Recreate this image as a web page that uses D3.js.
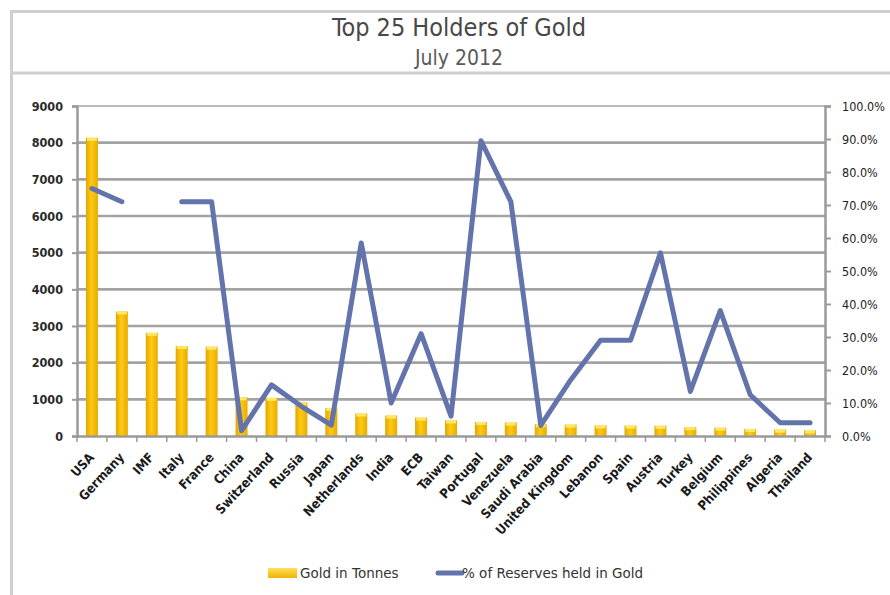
<!DOCTYPE html>
<html><head><meta charset="utf-8">
<script src="https://cdn.jsdelivr.net/npm/d3@7"></script>
<style>
html,body{margin:0;padding:0;background:#fff;}
svg{display:block;}
</style></head>
<body>
<svg id="chart" width="890" height="595"></svg>
<script>
const countries = ["USA","Germany","IMF","Italy","France","China","Switzerland","Russia","Japan","Netherlands","India","ECB","Taiwan","Portugal","Venezuela","Saudi Arabia","United Kingdom","Lebanon","Spain","Austria","Turkey","Belgium","Philippines","Algeria","Thailand"];
const tonnes = [8134,3396,2814,2452,2435,1054,1040,918,765,613,558,502,424,383,366,323,310,287,282,280,240,227,192,174,152];
const pctReserves = [75,71,null,71,71,1.6,15.5,9,3.3,58.5,10,31,6,89.5,71,3.2,17,29,29,55.5,13.5,38,12.5,4,4];
const leftTicks = [0,1000,2000,3000,4000,5000,6000,7000,8000,9000];
const rightTicks = [0,10,20,30,40,50,60,70,80,90,100];
const titleText = "Top 25 Holders of Gold";
const subtitleText = "July 2012";
const legendLabels = ["Gold in Tonnes","% of Reserves held in Gold"];

const svg = d3.select("#chart");
const narrow = "'Liberation Sans Narrow','DejaVu Sans Condensed','Arial Narrow',sans-serif";
const frame = "#cfcfcf";

// frame
svg.append("path").attr("d","M11.5,595 L11.5,11.5 L890,11.5").attr("fill","none").attr("stroke",frame).attr("stroke-width",3);
svg.append("line").attr("x1",11).attr("x2",890).attr("y1",73).attr("y2",73).attr("stroke",frame).attr("stroke-width",3);

svg.append("text").attr("x",459).attr("y",36).attr("text-anchor","middle")
  .style("font-family",narrow).style("font-size","25px").attr("fill","#484848").text(titleText);
svg.append("text").attr("x",459).attr("y",65).attr("text-anchor","middle")
  .style("font-family",narrow).style("font-size","21px").attr("fill","#5a5a5a").text(subtitleText);

const m = {left:77, right:825, top:106, bottom:436};
const x = d3.scaleBand().domain(countries).range([m.left,m.right]).paddingInner(0).paddingOuter(0);
const yL = d3.scaleLinear().domain([0,9000]).range([m.bottom,m.top]);
const yR = d3.scaleLinear().domain([0,100]).range([m.bottom,m.top]);

const defs = svg.append("defs");
const g1 = defs.append("linearGradient").attr("id","goldH").attr("x1","0").attr("x2","1").attr("y1","0").attr("y2","0");
g1.append("stop").attr("offset","0%").attr("stop-color","#e3a600");
g1.append("stop").attr("offset","45%").attr("stop-color","#ffca14");
g1.append("stop").attr("offset","100%").attr("stop-color","#e8ac00");
const g2 = defs.append("linearGradient").attr("id","goldV").attr("x1","0").attr("x2","0").attr("y1","0").attr("y2","1");
g2.append("stop").attr("offset","0%").attr("stop-color","#ffe060");
g2.append("stop").attr("offset","100%").attr("stop-color","#f0b400");

// gridlines
svg.append("g").selectAll("line").data(leftTicks.filter(d=>d>0)).join("line")
  .attr("x1",m.left).attr("x2",m.right).attr("y1",d=>yL(d)).attr("y2",d=>yL(d))
  .attr("stroke","#a3a3a3").attr("stroke-width",d=>d===9000?1.5:2.7);

// bars
const bw = 12;
const bars = svg.append("g");
bars.selectAll("rect.b").data(countries).join("rect").attr("class","b")
  .attr("x",d=>x(d)+x.bandwidth()/2-bw/2).attr("width",bw)
  .attr("y",(d,i)=>yL(tonnes[i])).attr("height",(d,i)=>m.bottom-yL(tonnes[i]))
  .attr("fill","url(#goldH)");
bars.selectAll("rect.t").data(countries).join("rect").attr("class","t")
  .attr("x",d=>x(d)+x.bandwidth()/2-bw/2+1).attr("width",bw-2)
  .attr("y",(d,i)=>yL(tonnes[i])).attr("height",(d,i)=>Math.min(3,m.bottom-yL(tonnes[i])))
  .attr("fill","#ffe866");

// axes
const axL = svg.append("g").attr("transform",`translate(${m.left},0)`)
  .call(d3.axisLeft(yL).tickValues(leftTicks).tickSize(5).tickPadding(9).tickFormat(d3.format("d")));
const axR = svg.append("g").attr("transform",`translate(${m.right},0)`)
  .call(d3.axisRight(yR).tickValues(rightTicks).tickSize(6).tickPadding(11).tickFormat(d=>d3.format(".1%")(d/100)));
const axB = svg.append("g").attr("transform",`translate(0,${m.bottom})`)
  .call(d3.axisBottom(x).tickSize(0).tickFormat(""));
// band boundary ticks
svg.append("g").selectAll("line").data(countries.concat(["__end"])).join("line")
  .attr("x1",(d,i)=>m.left+i*x.step()).attr("x2",(d,i)=>m.left+i*x.step())
  .attr("y1",m.bottom).attr("y2",m.bottom+6).attr("stroke","#999").attr("stroke-width",1.5);

[axL,axR,axB].forEach(a=>{
  a.select(".domain").attr("stroke","#9a9a9a").attr("stroke-width",2.5);
  a.selectAll(".tick line").attr("stroke","#9a9a9a").attr("stroke-width",2);
  a.selectAll("text").style("font-family",narrow).style("font-size","12px").style("font-weight","bold").attr("fill","#2a2a2a");
});
axR.selectAll("text").style("font-weight","normal").style("font-size","12.5px").attr("fill","#222");
axL.selectAll("text").style("font-size","12.5px");

// x labels
svg.append("g").selectAll("text").data(countries).join("text")
  .attr("transform",d=>`translate(${x(d)+x.bandwidth()/2+3},${m.bottom+22}) rotate(-47)`)
  .attr("text-anchor","end")
  .style("font-family",narrow).style("font-size","13px").style("font-weight","bold").attr("fill","#1a1a1a")
  .text(d=>d);

// line
const line = d3.line().defined(d=>d.v!=null).x(d=>x(d.c)+x.bandwidth()/2).y(d=>yR(d.v));
svg.append("path").datum(countries.map((c,i)=>({c,v:pctReserves[i]})))
  .attr("d",line).attr("fill","none").attr("stroke","#6373ab").attr("stroke-width",5)
  .attr("stroke-linejoin","round").attr("stroke-linecap","round");

// legend
const lf = "'DejaVu Sans',Verdana,sans-serif";
const lg = svg.append("g");
lg.append("rect").attr("x",268).attr("y",568).attr("width",29).attr("height",10).attr("fill","url(#goldV)");
lg.append("text").attr("x",300).attr("y",578).style("font-family",lf).style("font-size","13.5px").attr("fill","#333").text(legendLabels[0]);
lg.append("line").attr("x1",438).attr("x2",462).attr("y1",573).attr("y2",573).attr("stroke","#6373ab").attr("stroke-width",5).attr("stroke-linecap","round");
lg.append("text").attr("x",462).attr("y",578).style("font-family",lf).style("font-size","13.5px").attr("fill","#333").text(legendLabels[1]);
</script>
</body></html>
